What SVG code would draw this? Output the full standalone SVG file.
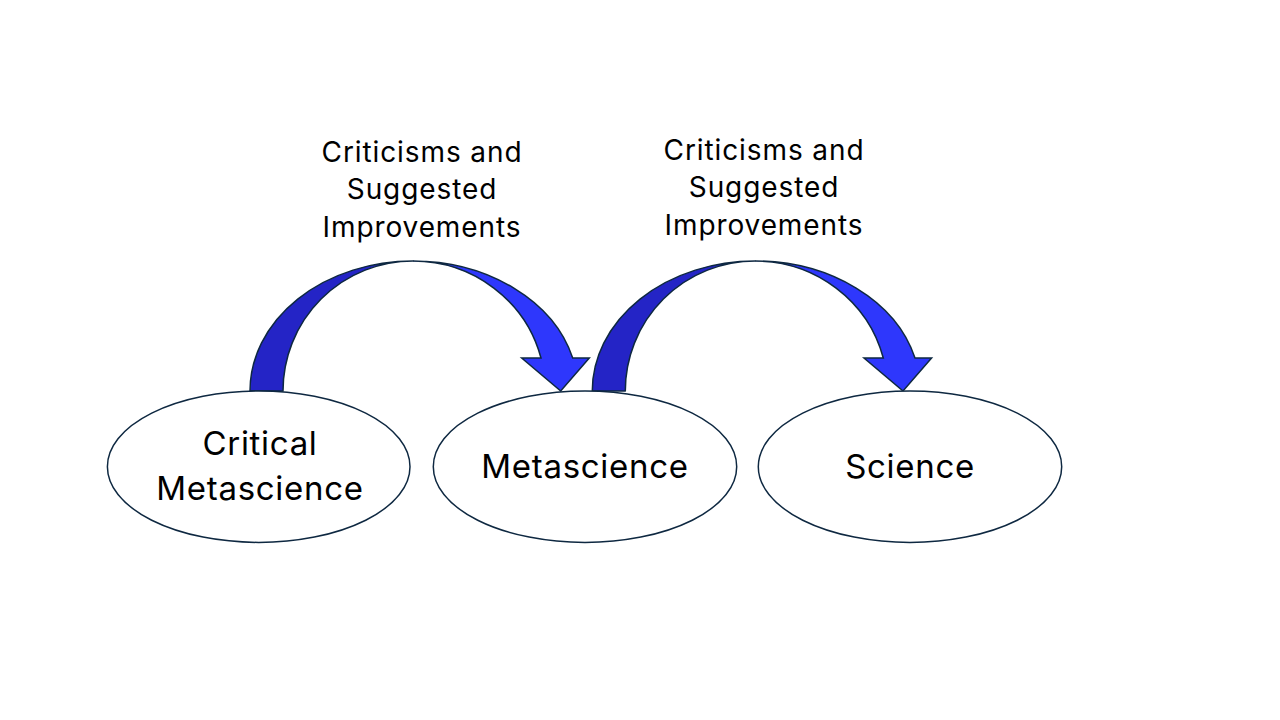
<svg xmlns="http://www.w3.org/2000/svg" width="1280" height="720" viewBox="0 0 1280 720">
<style>
.node{fill:#FFFFFF;stroke:#0E2841;stroke-width:1.5}
.t{font-family:Inter,"Liberation Sans",sans-serif;fill:#000000;text-anchor:middle}
.big{font-size:33px;letter-spacing:0.7px}
.lab{font-size:28px;letter-spacing:0.9px}
.back{fill:#2424C6;stroke:#0E2841;stroke-width:1.5;stroke-linejoin:round}
.front{fill:#2E37FC;stroke:#0E2841;stroke-width:1.5;stroke-linejoin:miter}
</style>
<rect width="1280" height="720" fill="#FFFFFF"/>
<g id="connectors">
  <g id="arrow1">
    <path class="back" d="M250,391 A163,130 0 0 1 413,261 A130,130 0 0 0 283,391 Z"/>
    <path class="front" d="M413,261 A165.4,130 0 0 1 572.7,358 L589.3,358 L560.7,391 L521.7,358 L541,358 A132.3,130 0 0 0 413,261 Z"/>
  </g>
  <g id="arrow2" transform="translate(342.3,0)">
    <path class="back" d="M250,391 A163,130 0 0 1 413,261 A130,130 0 0 0 283,391 Z"/>
    <path class="front" d="M413,261 A165.4,130 0 0 1 572.7,358 L589.3,358 L560.7,391 L521.7,358 L541,358 A132.3,130 0 0 0 413,261 Z"/>
  </g>
</g>
<g id="label1">
  <text class="t lab" x="422" y="162">Criticisms and</text>
  <text class="t lab" x="422" y="199">Suggested</text>
  <text class="t lab" x="422" y="237">Improvements</text>
</g>
<g id="label2">
  <text class="t lab" x="764" y="160">Criticisms and</text>
  <text class="t lab" x="764" y="197">Suggested</text>
  <text class="t lab" x="764" y="235">Improvements</text>
</g>
<g id="critical-metascience">
  <ellipse class="node" cx="258.7" cy="466.7" rx="151.3" ry="75.7"/>
  <text class="t big" x="260" y="455">Critical</text>
  <text class="t big" x="260" y="500">Metascience</text>
</g>
<g id="metascience">
  <ellipse class="node" cx="585" cy="466.7" rx="151.7" ry="75.7"/>
  <text class="t big" x="585" y="478">Metascience</text>
</g>
<g id="science">
  <ellipse class="node" cx="910" cy="466.7" rx="151.7" ry="75.7"/>
  <text class="t big" x="910" y="478">Science</text>
</g>
</svg>
